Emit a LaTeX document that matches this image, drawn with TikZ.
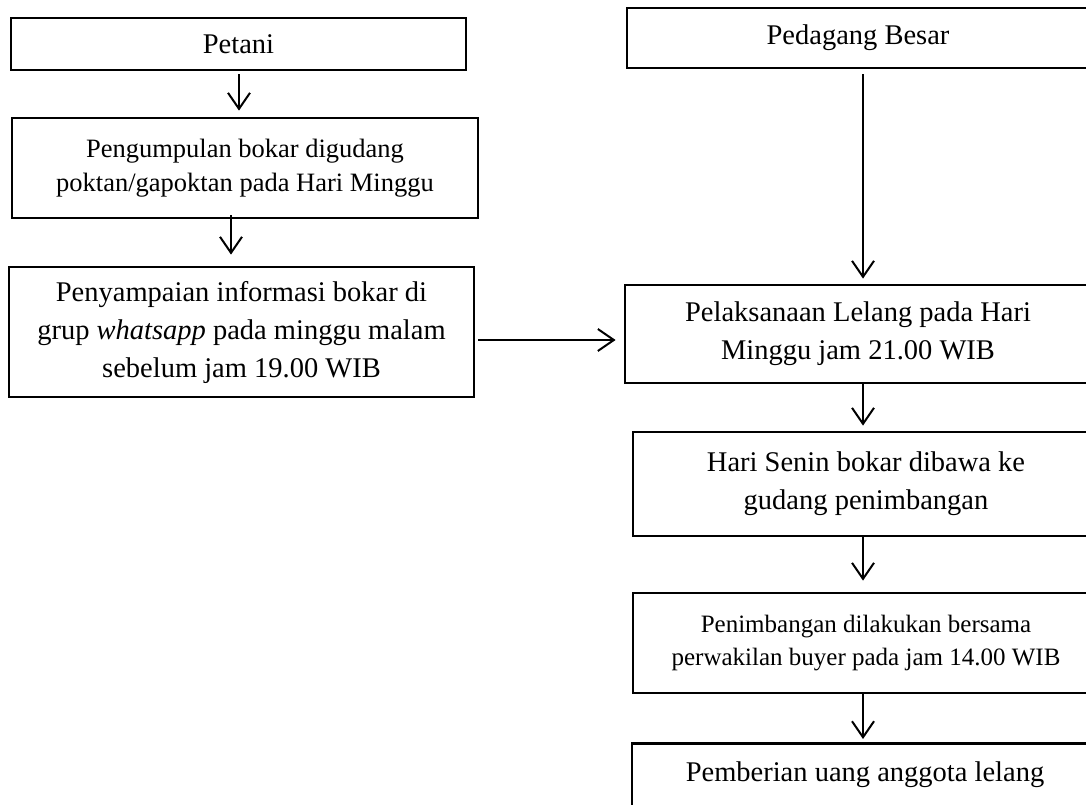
\documentclass[tikz,border=0pt]{standalone}
\usepackage{fontspec}
\setmainfont{Liberation Serif}
\usetikzlibrary{arrows.meta}
\tikzset{
  box/.style={draw, line width=2.8pt, inner sep=0pt, align=center, minimum width=#1},
  box/.default=466pt,
  arr/.style={line width=2pt, -{Straight Barb[length=16pt,width=22pt,line width=2pt]}},
  big/.style={font=\fontsize{28.5}{38}\selectfont},
  mid/.style={font=\fontsize{26.5}{34}\selectfont},
  sml/.style={font=\fontsize{25}{33}\selectfont}
}
\begin{document}
\begin{tikzpicture}[x=1pt,y=-1pt]
\useasboundingbox (0,0) rectangle (1086,805);
\clip (0,0) rectangle (1086,805);
\fill[white] (0,0) rectangle (1086,805);
% left column
\node[box=455pt, big, minimum height=52pt] (petani) at (238.5,44) {Petani};
\node[box=466pt, mid, minimum height=100pt] (kumpul) at (245,168) {Pengumpulan bokar digudang\\poktan/gapoktan pada Hari Minggu};
\node[box=465pt, big, minimum height=130pt] (info) at (241.5,332) {Penyampaian informasi bokar di\\grup \textit{whatsapp} pada minggu malam\\sebelum jam 19.00 WIB};
% right column
\node[box=462pt, big, minimum height=60pt] (besar) at (858,38) {Pedagang Besar};
\node[box, big, minimum height=98pt] (lelang) at (858,334) {Pelaksanaan Lelang pada Hari\\Minggu jam 21.00 WIB};
\node[box, big, minimum height=104pt] (senin) at (866,484) {Hari Senin bokar dibawa ke\\gudang penimbangan};
\node[box, sml, minimum height=100pt] (timbang) at (866,643) {Penimbangan dilakukan bersama\\perwakilan buyer pada jam 14.00 WIB};
\node[box, big, anchor=north, text height=30pt, text depth=70pt, inner ysep=8pt] (uang) at (865,742) {Pemberian uang anggota lelang};
% connectors
\coordinate (h) at (0,340);
\draw[arr, shorten <=3pt, shorten >=6pt] ([xshift=0.5pt]petani.south) -- ([xshift=0.5pt]petani.south |- kumpul.north);
\draw[arr, shorten <=-4pt, shorten >=11pt] ([xshift=-14pt]kumpul.south) -- ([xshift=-14pt]kumpul.south |- info.north);
\draw[arr, shorten <=3pt, shorten >=8pt] (info.east |- h) -- (lelang.west |- h);
\draw[arr, shorten <=5pt, shorten >=5pt] ([xshift=5pt]besar.south) -- ([xshift=5pt]besar.south |- lelang.north);
\draw[arr, shorten <=0pt, shorten >=5pt] ([xshift=5pt]lelang.south) -- ([xshift=5pt]lelang.south |- senin.north);
\draw[arr, shorten <=0pt, shorten >=11pt] ([xshift=-3pt]senin.south) -- ([xshift=-3pt]senin.south |- timbang.north);
\draw[arr, shorten <=0pt, shorten >=3pt] ([xshift=-3pt]timbang.south) -- ([xshift=-3pt]timbang.south |- uang.north);
\end{tikzpicture}
\end{document}
